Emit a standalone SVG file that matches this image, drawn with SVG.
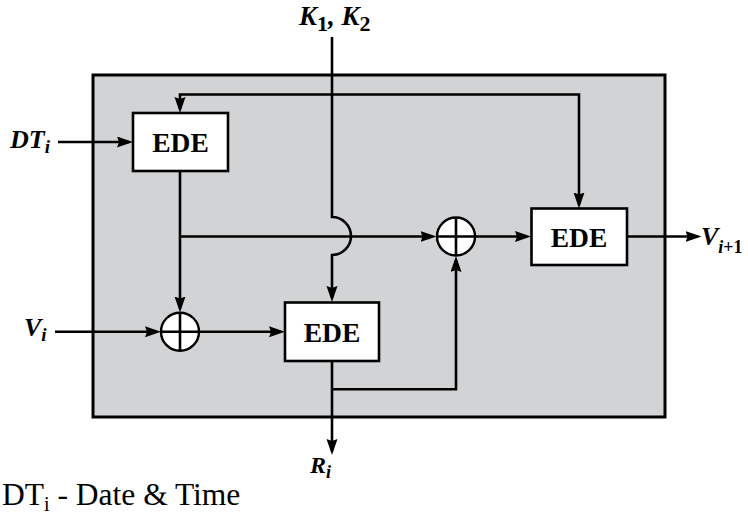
<svg xmlns="http://www.w3.org/2000/svg" width="748" height="516" viewBox="0 0 748 516">
<style>
.ln{fill:none;stroke:#000;stroke-width:2.6}
.box{fill:#fff;stroke:#000;stroke-width:2.6}
.xor{fill:#fff;stroke:#000;stroke-width:2.4}
.lbl{font-family:"Liberation Serif","Times New Roman",Tinos,"DejaVu Serif",serif;font-weight:bold;font-style:italic;fill:#000}
.ede{font-family:"Liberation Serif","Times New Roman",Tinos,"DejaVu Serif",serif;font-weight:bold;font-size:27.5px;fill:#000;text-anchor:middle}
.note{font-family:"Liberation Serif","Times New Roman",Tinos,"DejaVu Serif",serif;font-size:31.5px;fill:#000}
.up{font-style:normal}
</style>
<defs>
<marker id="ah" markerUnits="userSpaceOnUse" markerWidth="17" markerHeight="12" refX="12" refY="5.5" orient="auto">
<path d="M0,0 L16,5.5 L0,11 L2,5.5 z" fill="#000"/>
</marker>
</defs>
<rect width="748" height="516" fill="#fff"/>
<g id="frame"><rect x="93" y="75" width="572" height="342" fill="#d2d3d5" stroke="#000" stroke-width="3"/></g>

<g id="connectors">
<path class="ln" d="M58,142 H129" marker-end="url(#ah)"/>
<path class="ln" d="M380,94.5 H180 V109" marker-end="url(#ah)"/>
<path class="ln" d="M380,94.5 H579 V204.5" marker-end="url(#ah)"/>
<path class="ln" d="M180,171 V308.5" marker-end="url(#ah)"/>
<path class="ln" d="M180,236.5 H432.5" marker-end="url(#ah)"/>
<path class="ln" d="M475,236.5 H527" marker-end="url(#ah)"/>
<path class="ln" d="M55,331.7 H157" marker-end="url(#ah)"/>
<path class="ln" d="M199,331.7 H281" marker-end="url(#ah)"/>
<path class="ln" d="M332,37 V217 A19,19 0 0 1 332,255 V298" marker-end="url(#ah)"/>
<path class="ln" d="M627,236.5 H697.5" marker-end="url(#ah)"/>
<path class="ln" d="M332,361 V451" marker-end="url(#ah)"/>
<path class="ln" d="M332,389.3 H456 V260" marker-end="url(#ah)"/>
</g>

<g id="ede1"><rect class="box" x="133" y="113" width="95" height="58"/><text class="ede" x="180.5" y="151.5">EDE</text></g>
<g id="ede2"><rect class="box" x="285" y="302.5" width="94" height="58.5"/><text class="ede" x="332" y="341.5">EDE</text></g>
<g id="ede3"><rect class="box" x="531.5" y="208.5" width="95.5" height="56.5"/><text class="ede" x="579" y="246.5">EDE</text></g>

<g id="xor1"><circle class="xor" cx="180" cy="331.7" r="19"/><path class="ln" d="M161,331.7 H199 M180,312.7 V350.7" stroke-width="2.2"/></g>
<g id="xor2"><circle class="xor" cx="456" cy="236.5" r="19"/><path class="ln" d="M437,236.5 H475 M456,217.5 V255.5" stroke-width="2.2"/></g>

<g id="labels">
<text class="lbl" x="299" y="25" font-size="27">K<tspan class="up" font-size="22" dy="6">1</tspan><tspan dy="-6">, K</tspan><tspan class="up" font-size="22" dy="6">2</tspan></text>
<text class="lbl" x="10" y="148" font-size="26">DT<tspan font-size="19" dy="5">i</tspan></text>
<text class="lbl" x="24" y="336" font-size="26">V<tspan font-size="19" dy="5">i</tspan></text>
<text class="lbl" x="701" y="245" font-size="26">V<tspan font-size="18" dy="8">i<tspan class="up">+1</tspan></tspan></text>
<text class="lbl" x="310" y="473" font-size="24">R<tspan font-size="18" dy="5">i</tspan></text>
<text class="note" x="2" y="505">DT<tspan font-size="20" dy="6">i</tspan><tspan dy="-6"> - Date &amp; Time</tspan></text>
</g>
</svg>
